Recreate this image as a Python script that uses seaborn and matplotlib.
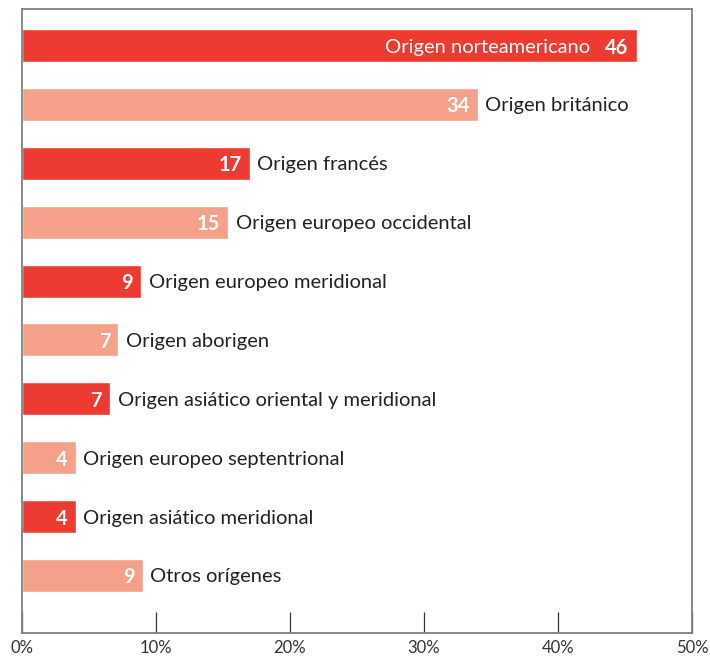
import numpy as np
import matplotlib
matplotlib.use("Agg")
import matplotlib.pyplot as plt
import seaborn as sns

# data (bar lengths in %)
names = [
    "Origen norteamericano",
    "Origen británico",
    "Origen francés",
    "Origen europeo occidental",
    "Origen europeo meridional",
    "Origen aborigen",
    "Origen asiático oriental y meridional",
    "Origen europeo septentrional",
    "Origen asiático meridional",
    "Otros orígenes",
]
values = [45.9, 34.0, 17.0, 15.4, 8.9, 7.2, 6.6, 4.0, 4.0, 9.0]
tick_vals = [0, 10, 20, 30, 40, 50]
tick_labels = ["0%", "10%", "20%", "30%", "40%", "50%"]

RED = "#EE3B32"
SALMON = "#F5A088"
colors = [RED if i % 2 == 0 else SALMON for i in range(len(names))]

sns.set_theme(style="white")
plt.rcParams['font.family'] = ['Lato', 'DejaVu Sans']

fig = plt.figure(figsize=(7.1, 6.59), dpi=100)
ax = fig.add_axes([0.031, 0.0395, 0.9436, 0.9473])

sns.barplot(x=values, y=names, hue=names, palette=colors, legend=False,
            orient="h", width=0.56, saturation=1, ax=ax)

ax.set_xlim(0, 50)
ax.set_ylim(9.976, -0.625)
ax.set_yticks([])
ax.set_ylabel("")
ax.set_xticks(tick_vals)
ax.set_xticklabels(tick_labels, fontsize=12, color="#333333")
ax.tick_params(axis="x", direction="in", length=15, width=0.9, color="#333333",
               pad=5, bottom=True)
for sp in ax.spines.values():
    sp.set_color("#808080")
    sp.set_linewidth(1.3)
    sp.set_visible(True)

fig.canvas.draw()
renderer = fig.canvas.get_renderer()
for i, (n, v) in enumerate(zip(names, values)):
    lab = ax.annotate(f"{round(v)}", xy=(v, i), xytext=(-6, 0), textcoords="offset points",
                      ha="right", va="center_baseline", color="white",
                      fontsize=14.5, fontweight="bold")
    if v > 40:
        bb = lab.get_window_extent(renderer)
        w_pt = bb.width * 72 / fig.dpi
        ax.annotate(n, xy=(v, i), xytext=(-6 - w_pt - 11, 0), textcoords="offset points",
                    ha="right", va="center_baseline", color="white", fontsize=14.5)
    else:
        ax.annotate(n, xy=(v, i), xytext=(5.5, 0), textcoords="offset points",
                    ha="left", va="center_baseline", color="#222222", fontsize=14.5)

fig.savefig("out.png", dpi=100)
